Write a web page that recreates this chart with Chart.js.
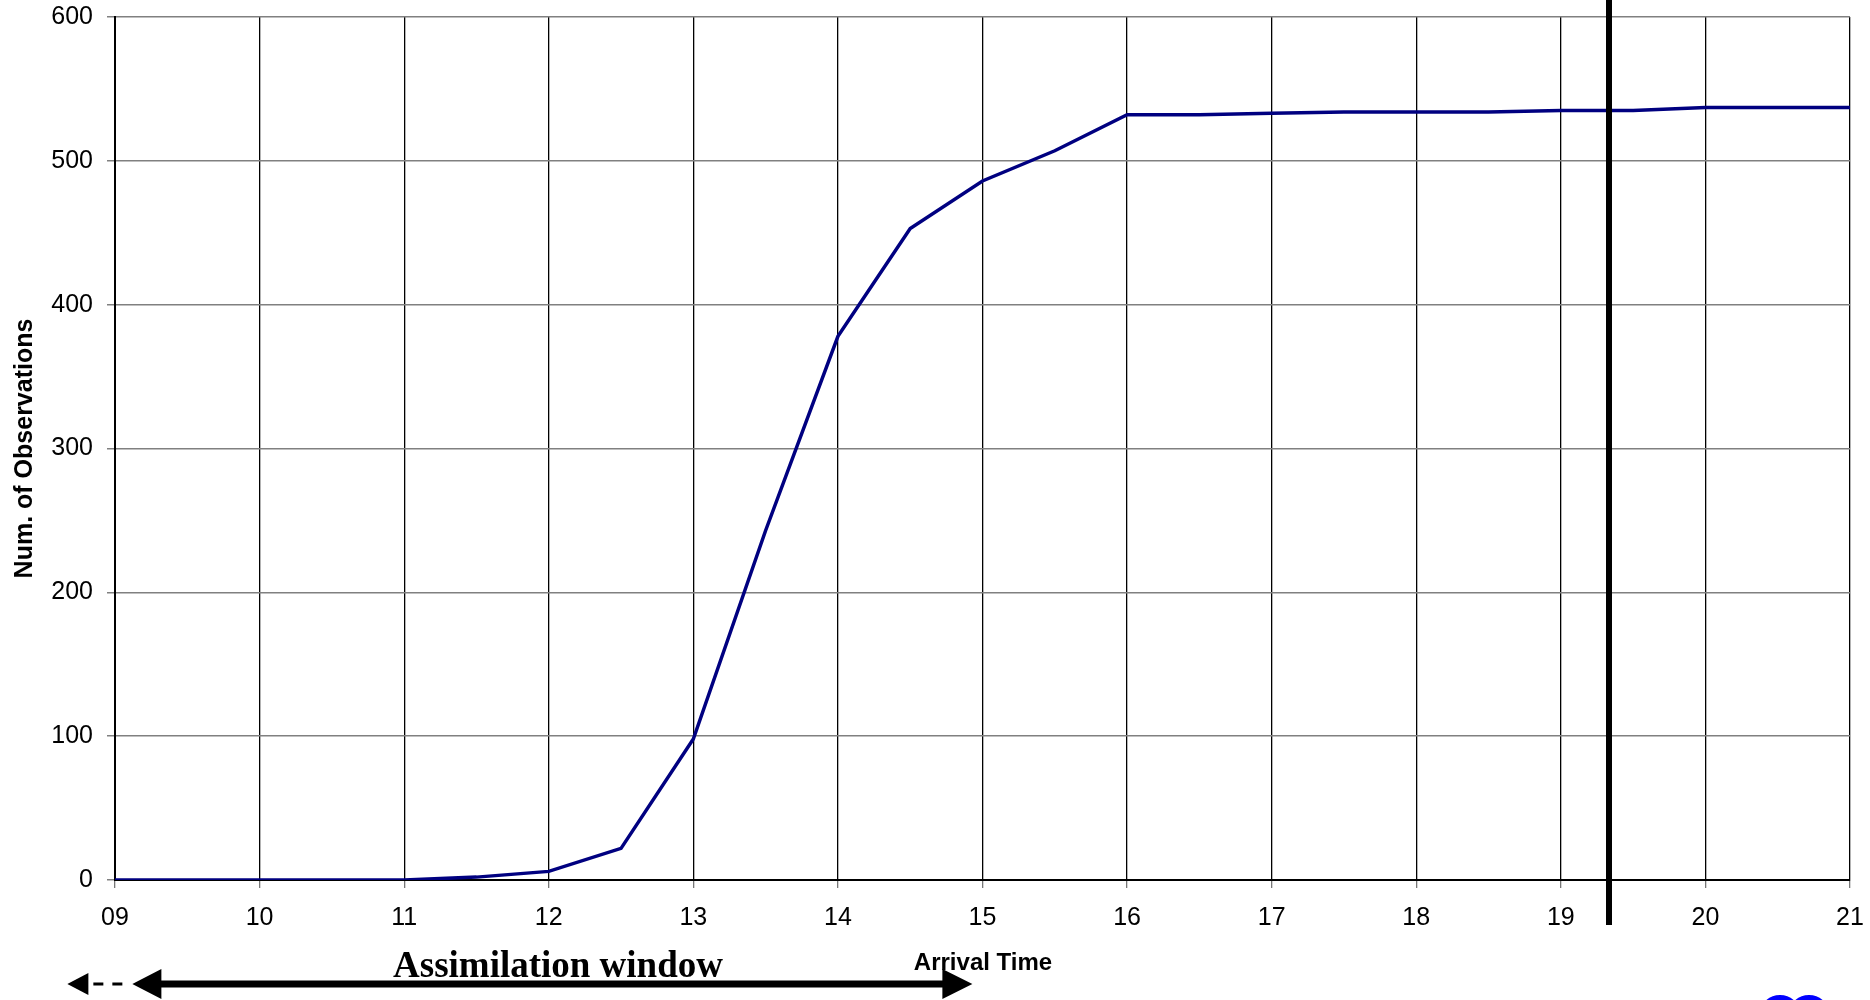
<!DOCTYPE html>
<html>
<head>
<meta charset="utf-8">
<title>Observations by arrival time</title>
<script src="https://cdn.jsdelivr.net/npm/chart.js@4/dist/chart.umd.min.js"></script>
<style>
  html, body { margin: 0; padding: 0; background: #fff; }
  #wrap { width: 1870px; height: 1000px; position: relative; }
</style>
</head>
<body>
<div id="wrap"><canvas id="obsChart"></canvas></div>
<script>
'use strict';

// arrival time (hours) and cumulative number of observations received
let arrivalHours = [9, 9.5, 10, 10.5, 11, 11.5, 12, 12.5, 13, 13.5, 14, 14.5, 15, 15.5, 16, 16.5, 17, 17.5, 18, 18.5, 19, 19.5, 20, 20.5, 21];
let numObs = [0, 0, 0, 0, 0, 2, 6, 22, 98, 243, 378, 453, 486, 507, 532, 532, 533, 534, 534, 534, 535, 535, 537, 537, 537];
let hourLabels = ['09', '10', '11', '12', '13', '14', '15', '16', '17', '18', '19', '20', '21'];

// data cut-off time and the assimilation window span
let cutoffHour = 19 + 20 / 60;
let windowStart = 9.12;
let windowEnd = 14.93;

let points = [];
for (let i = 0; i < arrivalHours.length; i++) {
    points.push({ x: arrivalHours[i], y: numObs[i] });
}

function arrowHead(ctx, tipX, y, w, h, dir) {
    ctx.beginPath();
    ctx.moveTo(tipX, y);
    ctx.lineTo(tipX - dir * w, y - h / 2);
    ctx.lineTo(tipX - dir * w, y + h / 2);
    ctx.closePath();
    ctx.fill();
}

// extra drawing: cut-off line, window arrow, labels, logo corner
let extras = {
    id: 'extras',
    afterDraw(chart) {
        let ctx = chart.ctx;
        let xs = chart.scales.x;
        ctx.save();

        // thick vertical cut-off line
        let cx = Math.round(xs.getPixelForValue(cutoffHour));
        ctx.fillStyle = '#000';
        ctx.fillRect(cx - 3, 0, 6, 925);

        // assimilation window arrow
        let ay = 984;
        let x1 = xs.getPixelForValue(windowStart);
        let x2 = xs.getPixelForValue(windowEnd);
        ctx.fillRect(x1 + 20, ay - 3.5, (x2 - 20) - (x1 + 20), 7);
        arrowHead(ctx, x1, ay, 29, 30, -1);
        arrowHead(ctx, x2, ay, 30, 30, 1);

        // dashed lead-in arrow on the left
        ctx.fillRect(x1 - 39, ay - 1.5, 10, 3);
        ctx.fillRect(x1 - 20, ay - 1.5, 10, 3);
        arrowHead(ctx, x1 - 65, ay, 21, 22, -1);

        ctx.textAlign = 'center';
        ctx.textBaseline = 'alphabetic';
        ctx.font = 'bold 37px "Liberation Serif", "Times New Roman", serif';
        ctx.fillText('Assimilation window', 558, 977);

        ctx.font = 'bold 24px "Liberation Sans", Arial, sans-serif';
        ctx.fillText('Arrival Time', 983, 970);

        // corner of the logo at the bottom
        ctx.strokeStyle = '#0000ff';
        ctx.lineWidth = 8;
        ctx.beginPath();
        ctx.arc(1780, 1016, 17, Math.PI, 2 * Math.PI);
        ctx.stroke();
        ctx.beginPath();
        ctx.arc(1809, 1016, 17, Math.PI, 2 * Math.PI);
        ctx.stroke();
        ctx.restore();
    }
};

let ctxEl = document.getElementById('obsChart').getContext('2d');
let obsChart = new Chart(ctxEl, {
    type: 'line',
    data: {
        datasets: [{
            label: 'Num. of Observations',
            data: points,
            borderColor: '#000080',
            borderWidth: 3.5,
            pointRadius: 0,
            tension: 0,
            fill: false
        }]
    },
    options: {
        responsive: true,
        maintainAspectRatio: false,
        animation: false,
        layout: { padding: { top: 17, right: 20, left: 0, bottom: 0 } },
        plugins: {
            legend: { display: false },
            tooltip: { enabled: false }
        },
        scales: {
            x: {
                type: 'linear',
                min: 9,
                max: 21,
                afterFit(scale) {
                    scale.height = 120;
                    scale.paddingLeft = 0;
                    scale.paddingRight = 0;
                },
                ticks: {
                    stepSize: 1,
                    color: '#000',
                    padding: 15,
                    maxRotation: 0,
                    font: { family: '"Liberation Sans", Arial, sans-serif', size: 25 },
                    callback: function (value) {
                        return hourLabels[value - 9];
                    }
                },
                grid: {
                    color: '#000',
                    lineWidth: 1.3,
                    tickColor: '#777',
                    tickLength: 8
                },
                border: { color: '#000', width: 2 }
            },
            y: {
                min: 0,
                max: 600,
                afterFit(scale) {
                    scale.width = 115;
                    scale.paddingTop = 0;
                    scale.paddingBottom = 0;
                },
                ticks: {
                    stepSize: 100,
                    color: '#000',
                    padding: 14,
                    font: { family: '"Liberation Sans", Arial, sans-serif', size: 25 }
                },
                grid: {
                    color: '#808080',
                    lineWidth: 1.5,
                    tickColor: '#808080',
                    tickLength: 8
                },
                border: { color: '#000', width: 2 },
                title: {
                    display: true,
                    text: 'Num. of Observations',
                    color: '#000',
                    padding: { top: 10, bottom: 0 },
                    font: { family: '"Liberation Sans", Arial, sans-serif', size: 25, weight: 'bold' }
                }
            }
        }
    },
    plugins: [extras]
});
</script>
</body>
</html>
